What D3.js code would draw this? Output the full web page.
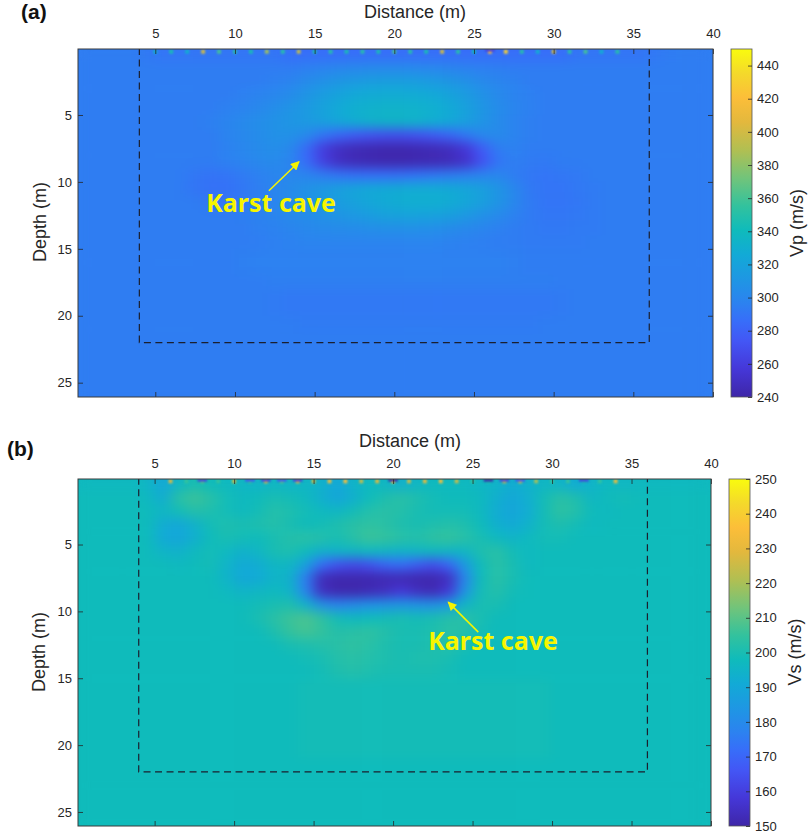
<!DOCTYPE html>
<html><head><meta charset="utf-8">
<script src="https://cdn.jsdelivr.net/npm/d3@7"></script>
<style>body{margin:0;background:#fff}svg{display:block}</style>
</head><body>
<svg id="chart" width="809" height="835"></svg>
<script>
// ---------------- DATA ----------------
const xTicks = [5, 10, 15, 20, 25, 30, 35, 40];
const depthTicks = [5, 10, 15, 20, 25];
const vpTicks = [240, 260, 280, 300, 320, 340, 360, 380, 400, 420, 440];
const vsTicks = [150, 160, 170, 180, 190, 200, 210, 220, 230, 240, 250];
const vpRange = [240, 450];
const vsRange = [150, 250];
// survey box: x from, x to, depth from, depth to
const surveyBox = [4, 36, 0, 22];
// annotation anchors (distance, depth)
const caveLabelA = [8.2, 12.25];
const caveArrowA = [[12.13, 10.66], [14.02, 8.49]];
const caveLabelB = [22.21, 12.9];
const caveArrowB = [[25.36, 11.55], [23.47, 9.31]];

// Vp grid (m/s): rows = depth 0-1,1-2,...,25-26 ; cols = distance 0-1,...,39-40
const vpGrid = [
[294,294,294,294,292,290,290,290,290,290,290,290,290,286,286,286,286,286,286,286,286,286,286,286,286,286,286,286,286,286,286,290,290,290,290,290,292,294,294,294],
[294,294,294,294,294,294,294,294,294,294,294,294,294,294,296,298,300,301,302,302,302,301,300,299,297,296,295,294,294,294,294,294,294,294,294,294,294,294,294,294],
[294,294,294,294,294,294,294,294,294,294,294,294,296,298,303,307,311,314,316,317,317,316,314,311,307,302,299,297,294,294,294,294,294,294,294,294,294,294,294,294],
[294,294,294,294,294,294,294,294,294,294,296,298,300,304,310,316,321,325,327,328,328,327,325,321,315,308,302,298,296,294,294,294,294,294,294,294,294,294,294,294],
[294,294,294,294,294,294,294,294,294,296,298,301,305,309,314,320,326,330,332,333,333,332,330,326,319,311,304,299,296,294,294,294,294,294,294,294,294,294,294,294],
[294,294,294,294,294,294,294,294,296,299,302,305,308,311,314,318,324,329,332,334,334,332,329,325,318,310,303,298,295,294,294,294,294,294,294,294,294,294,294,294],
[294,294,294,294,294,294,294,294,294,298,301,304,307,307,302,290,282,276,272,270,270,272,276,282,292,301,303,298,295,294,294,294,294,294,294,294,294,294,294,294],
[294,294,294,294,294,294,294,294,294,297,300,303,305,301,284,260,249,245,243,242,242,243,245,248,257,277,294,297,294,294,294,294,294,294,294,294,294,294,294,294],
[294,294,294,294,294,294,294,294,294,296,298,301,302,298,285,262,249,245,243,242,242,243,244,246,252,271,290,295,293,292,294,294,294,294,294,294,294,294,294,294],
[294,294,294,294,294,294,294,291,289,290,293,296,299,300,299,294,290,288,287,287,288,290,292,294,296,299,300,294,291,290,291,292,294,294,294,294,294,294,294,294],
[294,294,294,294,294,294,294,290,288,288,291,295,299,303,308,313,318,322,325,326,327,327,327,326,323,318,310,301,292,290,290,292,293,294,294,294,294,294,294,294],
[294,294,294,294,294,294,294,294,291,291,293,296,299,303,307,311,316,320,324,327,329,330,330,328,324,318,310,301,293,290,290,291,293,294,294,294,294,294,294,294],
[294,294,294,294,294,294,294,294,294,294,295,297,299,302,304,307,310,313,316,319,320,320,319,317,312,307,302,297,293,291,291,292,293,294,294,294,294,294,294,294],
[294,294,294,294,294,294,294,294,294,294,294,296,297,299,301,302,303,304,305,306,306,306,305,303,301,299,296,294,293,292,292,293,293,294,294,294,294,294,294,294],
[294,294,294,294,294,294,294,294,294,294,294,294,296,297,298,298,298,298,298,298,298,298,298,297,296,295,294,294,293,293,293,293,294,294,294,294,294,294,294,294],
[294,294,294,294,294,294,294,294,294,294,295,296,296,296,296,296,296,296,296,296,296,296,296,296,296,296,296,295,294,294,294,294,294,294,294,294,294,294,294,294],
[294,294,294,294,294,294,294,294,294,294,295,296,296,296,296,296,296,296,296,296,296,296,296,296,296,296,296,295,294,294,294,294,294,294,294,294,294,294,294,294],
[294,294,294,294,294,294,294,294,294,294,294,294,295,295,295,295,295,295,295,295,295,295,295,295,295,295,295,295,295,295,294,294,294,294,294,294,294,294,294,294],
[294,294,294,294,294,294,294,294,294,294,294,294,293,292,292,292,292,292,292,292,292,292,292,292,292,292,292,292,292,292,293,294,294,294,294,294,294,294,294,294],
[294,294,294,294,294,294,294,294,294,294,294,294,293,292,292,292,292,292,292,292,292,292,292,292,292,292,292,292,292,292,293,294,294,294,294,294,294,294,294,294],
[294,294,294,294,294,294,294,294,294,294,294,294,294,294,293,293,293,293,293,293,293,293,293,293,293,293,293,293,293,294,294,294,294,294,294,294,294,294,294,294],
[294,294,294,294,294,294,294,294,294,294,294,294,294,294,294,294,294,294,294,294,294,294,294,294,294,294,294,294,294,294,294,294,294,294,294,294,294,294,294,294],
[294,294,294,294,294,294,294,294,294,294,294,294,294,294,294,294,294,294,294,294,294,294,294,294,294,294,294,294,294,294,294,294,294,294,294,294,294,294,294,294],
[294,294,294,294,294,294,294,294,294,294,294,294,294,294,294,294,294,294,294,294,294,294,294,294,294,294,294,294,294,294,294,294,294,294,294,294,294,294,294,294],
[294,294,294,294,294,294,294,294,294,294,294,294,294,294,294,294,294,294,294,294,294,294,294,294,294,294,294,294,294,294,294,294,294,294,294,294,294,294,294,294],
[294,294,294,294,294,294,294,294,294,294,294,294,294,294,294,294,294,294,294,294,294,294,294,294,294,294,294,294,294,294,294,294,294,294,294,294,294,294,294,294]
];

// Vs grid (m/s)
const vsGrid = [
[197,197,197,197,196,190,196,200,198,197,196,195,196,195,196,194,190,195,197,196,193,196,197,197,197,196,195,192,194,196,195,191,195,197,196,197,197,197,197,197],
[198,198,198,198,197,192,203,206,203,199,197,198,200,199,197,193,189,193,198,201,203,201,199,198,198,197,193,190,193,199,203,201,196,198,199,198,198,198,198,198],
[198,198,198,198,198,196,199,202,201,199,197,199,202,201,199,197,196,199,202,203,202,200,199,199,199,197,192,189,192,199,204,202,198,197,198,198,198,198,198,198],
[198,198,198,198,198,192,190,194,199,201,200,201,202,200,198,199,201,203,204,203,201,200,201,202,201,198,193,191,194,199,201,199,197,198,198,198,198,198,198,198],
[198,198,198,198,198,191,189,193,198,200,199,198,200,202,203,202,200,203,206,205,203,202,204,205,203,200,197,195,197,199,199,198,198,198,198,198,198,198,198,198],
[198,198,198,198,198,195,194,197,199,197,194,196,200,201,198,194,195,196,197,196,195,196,197,196,196,201,203,199,197,198,198,198,198,198,198,198,198,198,198,198],
[198,198,198,198,198,198,197,198,199,195,191,192,196,196,188,172,165,163,165,170,172,168,164,170,185,198,203,200,197,198,198,198,198,198,198,198,198,198,198,198],
[198,198,198,198,198,198,198,198,198,195,190,191,195,194,176,153,151,151,151,152,152,151,151,154,178,198,203,200,198,198,198,198,198,198,198,198,198,198,198,198],
[198,198,198,198,198,198,198,198,198,197,195,196,197,195,178,154,151,151,152,154,158,154,152,158,183,199,202,199,198,198,198,198,198,198,198,198,198,198,198,198],
[198,198,198,198,198,198,198,198,198,198,198,199,200,201,194,182,178,180,182,183,184,183,182,186,195,200,200,198,198,198,198,198,198,198,198,198,198,198,198,198],
[198,198,198,198,198,198,198,198,198,198,198,200,203,206,208,204,199,197,198,199,200,199,200,202,203,200,198,198,198,198,198,198,198,198,198,198,198,198,198,198],
[198,198,198,198,198,198,198,198,198,198,198,198,201,205,207,205,202,203,204,202,200,200,201,203,202,199,198,198,198,198,198,198,198,198,198,198,198,198,198,198],
[198,198,198,198,198,198,198,198,198,198,198,198,198,200,201,202,203,204,203,201,200,200,201,202,200,198,198,198,198,198,198,198,198,198,198,198,198,198,198,198],
[198,198,198,198,198,198,198,198,198,198,198,198,198,198,199,200,202,203,202,201,200,201,201,200,198,198,198,198,198,198,198,198,198,198,198,198,198,198,198,198],
[198,198,198,198,198,198,198,198,198,198,198,198,198,198,198,199,201,202,201,200,200,200,200,199,198,198,198,198,198,198,198,198,198,198,198,198,198,198,198,198],
[198,198,198,198,198,198,198,198,198,198,198,198,198,198,199,199,199,199,199,199,199,199,199,199,199,199,199,199,199,199,198,198,198,198,198,198,198,198,198,198],
[198,198,198,198,198,198,198,198,198,198,198,198,198,198,199,199,199,199,199,199,199,199,199,199,199,199,199,199,199,199,198,198,198,198,198,198,198,198,198,198],
[198,198,198,198,198,198,198,198,198,198,198,198,198,198,199,199,199,199,199,199,199,199,199,199,199,199,199,199,199,199,198,198,198,198,198,198,198,198,198,198],
[198,198,198,198,198,198,198,198,198,198,198,198,198,198,199,199,199,199,199,199,199,199,199,199,199,199,199,199,199,199,198,198,198,198,198,198,198,198,198,198],
[198,198,198,198,198,198,198,198,198,198,198,198,198,198,199,199,199,199,199,199,199,199,199,199,199,199,199,199,199,199,198,198,198,198,198,198,198,198,198,198],
[198,198,198,198,198,198,198,198,198,198,198,198,198,198,199,199,199,199,199,199,199,199,199,199,199,199,199,199,199,199,198,198,198,198,198,198,198,198,198,198],
[198,198,198,198,198,198,198,198,198,198,198,198,198,198,198,198,198,198,198,198,198,198,198,198,198,198,198,198,198,198,198,198,198,198,198,198,198,198,198,198],
[198,198,198,198,198,198,198,198,198,198,198,198,198,198,198,198,198,198,198,198,198,198,198,198,198,198,198,198,198,198,198,198,198,198,198,198,198,198,198,198],
[198,198,198,198,198,198,198,198,198,198,198,198,198,198,198,198,198,198,198,198,198,198,198,198,198,198,198,198,198,198,198,198,198,198,198,198,198,198,198,198],
[198,198,198,198,198,198,198,198,198,198,198,198,198,198,198,198,198,198,198,198,198,198,198,198,198,198,198,198,198,198,198,198,198,198,198,198,198,198,198,198],
[198,198,198,198,198,198,198,198,198,198,198,198,198,198,198,198,198,198,198,198,198,198,198,198,198,198,198,198,198,198,198,198,198,198,198,198,198,198,198,198]
];

// near-surface receiver artefacts (distance 5..35 m)
const surfaceX = [5,6,7,8,9,10,11,12,13,14,15,16,17,18,19,20,21,22,23,24,25,26,27,28,29,30,31,32,33,34,35];
const vpSurface = [330,345,330,400,360,350,345,385,350,395,345,350,345,350,345,360,350,345,400,350,340,420,430,350,330,400,350,360,330,350,null];
const vpSurfaceTop = [null,null,null,null,null,null,null,null,null,null,null,null,null,null,null,null,null,null,null,null,null,260,null,null,null,null,null,null,null,null,null];
const vsSurface = [null,228,205,210,205,225,205,228,210,230,225,232,235,225,228,240,225,230,235,225,205,200,225,225,220,205,205,200,205,232,null];
const vsSurfaceTop = [null,null,null,160,null,null,165,160,165,160,null,null,null,null,null,150,null,null,null,null,null,150,160,165,null,null,null,160,null,null,null];

// parula-like colormap stops
const parulaStops = [
  [0.00,"#3e26a8"],[0.08,"#4537d8"],[0.16,"#4356f5"],[0.22,"#376ef9"],[0.27,"#2c82f0"],
  [0.34,"#1e97e3"],[0.41,"#12aad6"],[0.48,"#0fbbbb"],[0.55,"#33c29d"],[0.63,"#72c47a"],
  [0.71,"#b1bf52"],[0.79,"#e3b83d"],[0.86,"#fcbe39"],[0.93,"#f4d92b"],[1.00,"#f9fb0e"]
];

// ---------------- DRAW ----------------
const svg = d3.select("#chart");
const defs = svg.append("defs");
const FONT = "'Liberation Sans', Arial, Helvetica, sans-serif";
const INK = "#262626";

const smooth = defs.append("filter").attr("id","smooth").attr("color-interpolation-filters","sRGB");
smooth.append("feGaussianBlur").attr("stdDeviation","7 6");
smooth.append("feComponentTransfer").append("feFuncA").attr("type","linear").attr("slope",40);
const dotBlur = defs.append("filter").attr("id","dotblur").attr("color-interpolation-filters","sRGB")
  .attr("x","-100%").attr("y","-100%").attr("width","300%").attr("height","300%");
dotBlur.append("feGaussianBlur").attr("stdDeviation","0.9");

const arrowMarker = defs.append("marker").attr("id","arrowY").attr("viewBox","0 0 10 10")
  .attr("refX",9).attr("refY",5).attr("markerWidth",10).attr("markerHeight",9)
  .attr("markerUnits","userSpaceOnUse").attr("orient","auto");
arrowMarker.append("path").attr("d","M0,0 L10,5 L0,10 z").attr("fill","#f6f400");

function colorScale(range){
  const [lo,hi] = range;
  return d3.scaleLinear()
    .domain(parulaStops.map(s => lo + s[0]*(hi-lo)))
    .range(parulaStops.map(s => s[1]))
    .interpolate(d3.interpolateRgb).clamp(true);
}

const panels = [
  { id:"a", grid:vpGrid, surf:vpSurface, surfTop:vpSurfaceTop, range:vpRange, cticks:vpTicks,
    clabel:"Vp (m/s)", tag:"(a)", label:caveLabelA, arrow:caveArrowA,
    plot:{l:78,r:713,t:49,b:397}, xDom:[0.15,40], yDom:[0.07,26.07],
    cb:{l:731,r:752}, tagPos:[21,19], xlabPos:[415,18], ylabPos:[46,222], clabPos:[803,223] },
  { id:"b", grid:vsGrid, surf:vsSurface, surfTop:vsSurfaceTop, range:vsRange, cticks:vsTicks,
    clabel:"Vs (m/s)", tag:"(b)", label:caveLabelB, arrow:caveArrowB,
    plot:{l:78,r:711,t:479,b:826}, xDom:[0.18,40], yDom:[0.1,26.05],
    cb:{l:729,r:750}, tagPos:[7,456], xlabPos:[410,447], ylabPos:[45,652], clabPos:[801,652] }
];

panels.forEach(p => {
  const x = d3.scaleLinear().domain(p.xDom).range([p.plot.l, p.plot.r]);
  const y = d3.scaleLinear().domain(p.yDom).range([p.plot.t, p.plot.b]);
  const color = colorScale(p.range);

  defs.append("clipPath").attr("id","clip-"+p.id).append("rect")
    .attr("x",p.plot.l).attr("y",p.plot.t)
    .attr("width",p.plot.r-p.plot.l).attr("height",p.plot.b-p.plot.t);

  const g = svg.append("g").attr("clip-path",`url(#clip-${p.id})`);
  g.append("rect").attr("x",p.plot.l).attr("y",p.plot.t)
    .attr("width",p.plot.r-p.plot.l).attr("height",p.plot.b-p.plot.t)
    .attr("fill", color(p.grid[p.grid.length-1][0]));

  const cells = [];
  p.grid.forEach((row,j) => row.forEach((v,i) => cells.push({i,j,v,last:j===p.grid.length-1})));
  g.append("g").attr("filter","url(#smooth)")
    .selectAll("rect").data(cells).join("rect")
    .attr("x", d => x(d.i))
    .attr("y", d => y(d.j))
    .attr("width", d => x(d.i+1)-x(d.i)+0.6)
    .attr("height", d => y(d.last ? p.yDom[1]+0.5 : d.j+1)-y(d.j)+0.6)
    .attr("fill", d => color(d.v));

  // surface artefacts
  const sdots = surfaceX.map((sx,k)=>({x:sx,v:p.surf[k]})).filter(d=>d.v!==null);
  g.append("g").attr("filter","url(#dotblur)").selectAll("rect").data(sdots).join("rect")
    .attr("x", d => x(d.x-0.12)).attr("y", d => y(0.12))
    .attr("width", d => x(d.x+0.12)-x(d.x-0.12)).attr("height", d => y(0.42)-y(0.12))
    .attr("fill", d => color(d.v));
  const tdots = surfaceX.map((sx,k)=>({x:sx,v:p.surfTop[k]})).filter(d=>d.v!==null);
  g.append("g").attr("filter","url(#dotblur)").selectAll("rect").data(tdots).join("rect")
    .attr("x", d => x(d.x-0.3)).attr("y", d => y(p.yDom[0]))
    .attr("width", d => x(d.x+0.3)-x(d.x-0.3)).attr("height", 2.5)
    .attr("fill", d => color(d.v));

  // survey dashed box
  const [bx0,bx1,bd0,bd1] = surveyBox;
  g.append("path")
    .attr("d", d3.line()([[x(bx0),y(bd0)],[x(bx0),y(bd1)],[x(bx1),y(bd1)],[x(bx1),y(bd0)]]))
    .attr("fill","none").attr("stroke","#1b1f2e").attr("stroke-width",1.2)
    .attr("stroke-dasharray","7,4.5");

  // axes
  const axStyle = sel => {
    sel.select(".domain").remove();
    sel.selectAll(".tick line").attr("stroke",INK).attr("stroke-width",0.8);
    sel.selectAll(".tick text").attr("fill",INK).style("font-family",FONT).style("font-size","13px");
  };
  svg.append("g").attr("transform",`translate(0,${p.plot.t})`)
    .call(d3.axisTop(x).tickValues(xTicks).tickSize(-5).tickPadding(11)).call(axStyle);
  svg.append("g").attr("transform",`translate(0,${p.plot.b})`)
    .call(d3.axisBottom(x).tickValues(xTicks).tickSize(-5).tickFormat("")).call(axStyle);
  svg.append("g").attr("transform",`translate(${p.plot.l},0)`)
    .call(d3.axisLeft(y).tickValues(depthTicks).tickSize(-5).tickPadding(6)).call(axStyle);
  svg.append("g").attr("transform",`translate(${p.plot.r},0)`)
    .call(d3.axisRight(y).tickValues(depthTicks).tickSize(-5).tickFormat("")).call(axStyle);
  svg.append("rect").attr("x",p.plot.l).attr("y",p.plot.t)
    .attr("width",p.plot.r-p.plot.l).attr("height",p.plot.b-p.plot.t)
    .attr("fill","none").attr("stroke","#3a3a3a").attr("stroke-width",1);

  // annotation
  svg.append("line")
    .attr("x1",x(p.arrow[0][0])).attr("y1",y(p.arrow[0][1]))
    .attr("x2",x(p.arrow[1][0])).attr("y2",y(p.arrow[1][1]))
    .attr("stroke","#f6f400").attr("stroke-width",1.5).attr("marker-end","url(#arrowY)");
  svg.append("text").attr("x",x(p.label[0])).attr("y",y(p.label[1]))
    .attr("fill","#f7f500").style("font-family","'Noto Sans', 'Open Sans', sans-serif")
    .style("font-weight","bold").style("font-size","25px").text("Karst cave");

  // labels
  svg.append("text").attr("x",p.xlabPos[0]).attr("y",p.xlabPos[1]).attr("text-anchor","middle")
    .attr("fill",INK).style("font-family",FONT).style("font-size","18px").text("Distance (m)");
  svg.append("text").attr("transform",`translate(${p.ylabPos[0]},${p.ylabPos[1]}) rotate(-90)`)
    .attr("text-anchor","middle").attr("fill",INK).style("font-family",FONT).style("font-size","18px")
    .text("Depth (m)");
  svg.append("text").attr("x",p.tagPos[0]).attr("y",p.tagPos[1])
    .attr("fill","#111").style("font-family",FONT).style("font-weight","bold").style("font-size","21px")
    .text(p.tag);

  // colorbar
  const cy = d3.scaleLinear().domain(p.range).range([p.plot.b, p.plot.t]);
  const gradId = "grad-"+p.id;
  const grad = defs.append("linearGradient").attr("id",gradId)
    .attr("x1",0).attr("y1",1).attr("x2",0).attr("y2",0);
  grad.selectAll("stop").data(parulaStops).join("stop")
    .attr("offset", d => d[0]).attr("stop-color", d => d[1]);
  svg.append("rect").attr("x",p.cb.l).attr("y",p.plot.t)
    .attr("width",p.cb.r-p.cb.l).attr("height",p.plot.b-p.plot.t)
    .attr("fill",`url(#${gradId})`).attr("stroke","#555").attr("stroke-width",0.8);
  svg.append("g").attr("transform",`translate(${p.cb.r},0)`)
    .call(d3.axisRight(cy).tickValues(p.cticks).tickSize(-4).tickPadding(5)).call(axStyle);
  svg.append("text").attr("transform",`translate(${p.clabPos[0]},${p.clabPos[1]}) rotate(-90)`)
    .attr("text-anchor","middle").attr("fill",INK).style("font-family",FONT).style("font-size","18px")
    .text(p.clabel);
});
</script>
</body></html>
